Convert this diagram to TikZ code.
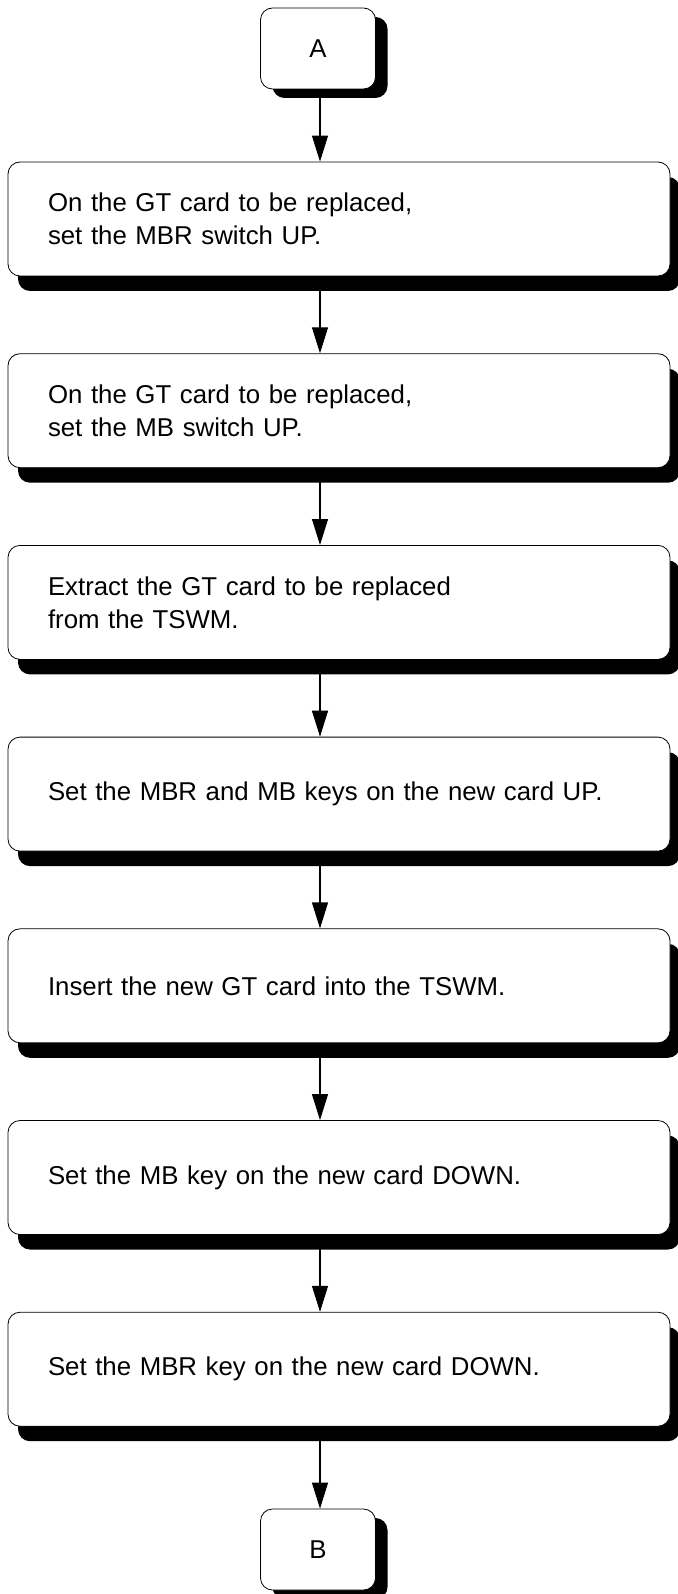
\documentclass[tikz,border=0pt]{standalone}
\usepackage{fontspec}
\setmainfont{Liberation Sans}
\usetikzlibrary{arrows.meta,shadows}

\begin{document}
\begin{tikzpicture}[
    x=1pt, y=-1pt,
    every node/.style={font=\fontsize{25.8}{33}\selectfont},
    stepbox/.style={draw, line width=0.8pt, fill=white, rounded corners=12pt,
        minimum height=114pt, text width=582pt, inner xsep=40pt, align=left,
        drop shadow={shadow xshift=10pt, shadow yshift=-15pt, fill=black, opacity=1}},
    terminal/.style={draw, line width=0.8pt, fill=white, rounded corners=12pt,
        minimum width=115pt, minimum height=81pt, inner sep=0pt,
        drop shadow={shadow xshift=12pt, shadow yshift=-9pt, fill=black, opacity=1}},
    flow/.style={line width=1.2pt, -{Triangle[length=26pt, width=16pt]}}
]

% Page frame
\useasboundingbox (0,0) rectangle (677,1594);

% Connectors in and out
\node[terminal] (A) at (318, 48.5) {A};
\node[terminal] (B) at (318, 1549.5) {B};

% Replacement steps
\foreach \desc [count=\i] in {
    {On the GT card to be replaced,\\set the MBR switch UP.},
    {On the GT card to be replaced,\\set the MB switch UP.},
    {Extract the GT card to be replaced\\from the TSWM.},
    {Set the MBR and MB keys on the new card UP.},
    {Insert the new GT card into the TSWM.},
    {Set the MB key on the new card DOWN.},
    {Set the MBR key on the new card DOWN.}} {
    \node[stepbox] (s\i) at (339, {219+(\i-1)*191.7}) {\desc};
}

% Flow arrows
\coordinate (axis) at (320, 0);
\draw[flow] (axis |- A.south) -- (axis |- s1.north);
\foreach \i [evaluate=\i as \j using int(\i+1)] in {1,...,6} {
    \draw[flow] (axis |- s\i.south) -- (axis |- s\j.north);
}
\draw[flow] (axis |- s7.south) -- (axis |- B.north);

\end{tikzpicture}
\end{document}
